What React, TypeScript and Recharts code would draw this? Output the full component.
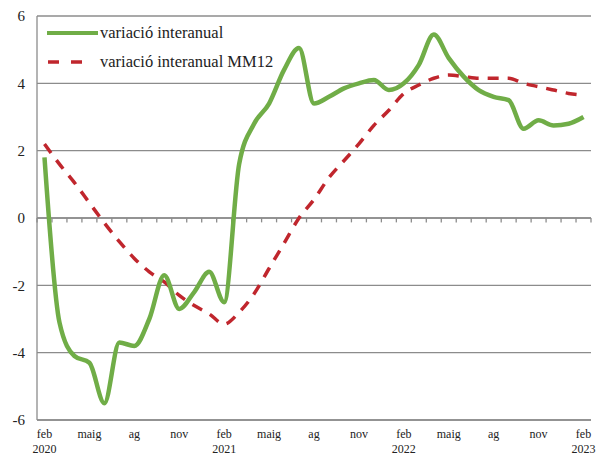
import { LineChart, Line, XAxis, YAxis, CartesianGrid, ReferenceLine } from 'recharts';

// month index 0 = feb 2020 ... 36 = feb 2023
const MONTH_IDX = Array.from({ length: 37 }, (_, i) => i);

const INTERANUAL = [
  1.8, -3.1, -4.1, -4.3, -5.5, -3.7, -3.8, -3.0, -1.7, -2.7, -2.2, -1.6, -2.5,
  1.6, 2.8, 3.4, 4.4, 5.05, 3.4, 3.6, 3.85, 4.0, 4.1, 3.8, 4.0,
  4.55, 5.45, 4.75, 4.2, 3.8, 3.6, 3.5, 2.65, 2.9, 2.75, 2.8, 3.0,
];

const INTERANUAL_MM12 = [
  2.2, 1.6, 1.05, 0.45, -0.15, -0.7, -1.2, -1.6, -1.9, -2.3, -2.6, -2.85, -3.15,
  -2.8, -2.25, -1.5, -0.75, 0.0, 0.55, 1.2, 1.7, 2.2, 2.75, 3.2, 3.7,
  3.95, 4.15, 4.25, 4.2, 4.15, 4.15, 4.15, 4.0, 3.9, 3.8, 3.7, 3.65,
];

const X_TICKS = [0, 3, 6, 9, 12, 15, 18, 21, 24, 27, 30, 33, 36];
const X_LABELS = ['feb', 'maig', 'ag', 'nov', 'feb', 'maig', 'ag', 'nov', 'feb', 'maig', 'ag', 'nov', 'feb'];
const X_YEARS = ['2020', '', '', '', '2021', '', '', '', '2022', '', '', '', '2023'];
const Y_TICKS = [-6, -4, -2, 0, 2, 4, 6];

const GREEN = '#70ad47';
const RED = '#c0262d';
const GRID = '#8c8c8c';
const FONT = '"Liberation Serif", serif';

const data = MONTH_IDX.map((m, i) => ({
  m,
  a: INTERANUAL[i],
  b: INTERANUAL_MM12[i],
}));

const XTick = (props: any) => {
  const { x, y, payload } = props;
  const k = X_TICKS.indexOf(payload.value);
  return (
    <g fontFamily={FONT} fontSize={12} fill="#222">
      <text x={x} y={y + 10} textAnchor="middle">{X_LABELS[k]}</text>
      <text x={x} y={y + 24.5} textAnchor="middle">{X_YEARS[k]}</text>
    </g>
  );
};

const LegendBox = () => (
  <div
    style={{
      position: 'absolute', left: 46, top: 18,
      fontFamily: FONT, fontSize: 16.5, color: '#222', lineHeight: '29px',
    }}
  >
    <div style={{ display: 'flex', alignItems: 'center' }}>
      <svg width={54} height={10}>
        <line x1={1} y1={5} x2={52} y2={5} stroke={GREEN} strokeWidth={4} />
      </svg>
      <span>variació interanual</span>
    </div>
    <div style={{ display: 'flex', alignItems: 'center' }}>
      <svg width={54} height={10}>
        <line x1={2} y1={5} x2={40} y2={5} stroke={RED} strokeWidth={3.5} strokeDasharray="11 12" />
      </svg>
      <span>variació interanual MM12</span>
    </div>
  </div>
);

export default function App() {
  return (
    <div style={{ position: 'absolute', left: 0, top: 0, width: 599, height: 457, background: '#fff' }}>
      <LineChart width={599} height={457} data={data} margin={{ top: 16, right: 8, left: 0, bottom: 0 }}>
        <CartesianGrid vertical={false} stroke={GRID} strokeWidth={1.3} />
        <XAxis
          dataKey="m"
          type="number"
          domain={[-0.5, 36.5]}
          ticks={X_TICKS}
          interval={0}
          height={37}
          tickLine={false}
          axisLine={{ stroke: GRID, strokeWidth: 1.3 }}
          tick={<XTick />}
        />
        <YAxis
          domain={[-6, 6]}
          ticks={Y_TICKS}
          width={37}
          tickLine={false}
          axisLine={{ stroke: GRID, strokeWidth: 1.3 }}
          tick={{ fontFamily: FONT, fontSize: 15, fill: '#222' }}
          tickMargin={6}
        />
        <ReferenceLine y={0} stroke={GRID} strokeWidth={1.3} />
        {Array.from({ length: 38 }, (_, k) => (
          <ReferenceLine
            key={k}
            segment={[{ x: k - 0.5, y: 0 }, { x: k - 0.5, y: -0.13 }]}
            stroke={GRID}
            strokeWidth={1.3}
          />
        ))}
        <Line
          type="monotone"
          dataKey="b"
          stroke={RED}
          strokeWidth={3.5}
          strokeDasharray="11 9"
          dot={false}
          isAnimationActive={false}
        />
        <Line
          type="monotone"
          dataKey="a"
          stroke={GREEN}
          strokeWidth={4.5}
          dot={false}
          isAnimationActive={false}
        />
      </LineChart>
      <LegendBox />
    </div>
  );
}
